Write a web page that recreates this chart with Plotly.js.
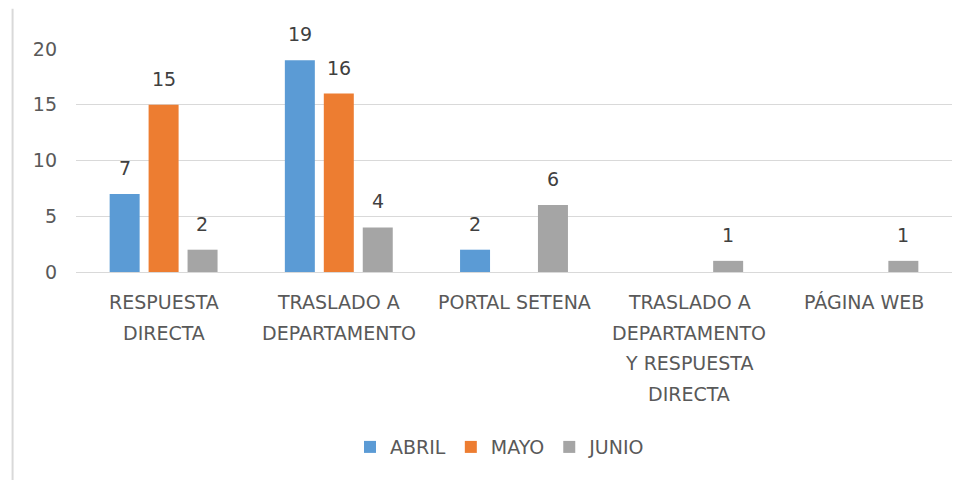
<!DOCTYPE html>
<html>
<head>
<meta charset="utf-8">
<script src="https://cdn.plot.ly/plotly-3.0.1.min.js"></script>
<style>
html,body{margin:0;padding:0;background:#fff;}
#chart{width:969px;height:480px;}
</style>
</head>
<body>
<div id="chart"></div>
<script>
// Data
var categories = [
  ["RESPUESTA", "DIRECTA"],
  ["TRASLADO A", "DEPARTAMENTO"],
  ["PORTAL SETENA"],
  ["TRASLADO A", "DEPARTAMENTO", "Y RESPUESTA", "DIRECTA"],
  ["PÁGINA WEB"]
];
var seriesNames = ["ABRIL", "MAYO", "JUNIO"];
var abril = [7, 19, 2, 0, 0];
var mayo  = [15, 16, 0, 0, 0];
var junio = [2, 4, 6, 1, 1];
var yTicks = [0, 5, 10, 15, 20];

var colors = ["#5b9bd5", "#ed7d31", "#a5a5a5"];
var FONT = "DejaVu Sans, sans-serif";
var catKeys = categories.map(function(c){ return c.join(" "); });
var allSeries = [abril, mayo, junio];

var traces = allSeries.map(function(vals, s){
  return {
    type: "bar",
    name: seriesNames[s],
    x: catKeys,
    y: vals,
    marker: {color: colors[s]},
    hoverinfo: "x+y+name"
  };
});

var annotations = [];
var slot = 0.222;
allSeries.forEach(function(vals, s){
  vals.forEach(function(v, i){
    if (v !== 0) {
      annotations.push({
        x: i + (s - 1) * slot, y: v, xref: "x", yref: "y",
        text: String(v), showarrow: false,
        yanchor: "middle", yshift: 26,
        font: {family: FONT, size: 19, color: "#404040"}
      });
    }
  });
});
categories.forEach(function(lines, i){
  lines.forEach(function(line, k){
    annotations.push({
      x: i, y: 0, xref: "x", yref: "paper",
      text: line, showarrow: false,
      yanchor: "middle", yshift: -(30 + 30.5 * k),
      font: {family: FONT, size: 19, color: "#595959"}
    });
  });
});

var layout = {
  width: 969, height: 480,
  margin: {l: 76, r: 17, t: 49, b: 208},
  paper_bgcolor: "#ffffff", plot_bgcolor: "#ffffff",
  barmode: "group",
  bargap: 0.333,
  bargroupgap: 0.23,
  font: {family: FONT, size: 19, color: "#595959"},
  xaxis: {
    type: "category",
    showticklabels: false,
    showgrid: false, zeroline: false,
    showline: false, ticks: "",
    fixedrange: true
  },
  yaxis: {
    range: [0, 20],
    tickvals: yTicks,
    ticktext: yTicks.map(String),
    showgrid: true, gridcolor: "#d9d9d9", gridwidth: 1,
    zeroline: true, zerolinecolor: "#d9d9d9", zerolinewidth: 1,
    showline: false, ticks: "",
    ticklabelstandoff: 18,
    tickfont: {family: FONT, size: 19, color: "#595959"},
    fixedrange: true
  },
  legend: {
    orientation: "h",
    x: 0.484, xanchor: "center",
    y: -0.785, yanchor: "middle",
    font: {family: FONT, size: 19, color: "#595959"},
    itemwidth: 30,
    traceorder: "normal"
  },
  annotations: annotations,
  shapes: [{
    type: "line", xref: "paper", yref: "paper",
    x0: -0.0724, x1: -0.0724, y0: -0.94, y1: 1.18,
    line: {color: "#d9d9d9", width: 2}
  }]
};

Plotly.newPlot("chart", traces, layout, {displayModeBar: false, staticPlot: true});
</script>
</body>
</html>
